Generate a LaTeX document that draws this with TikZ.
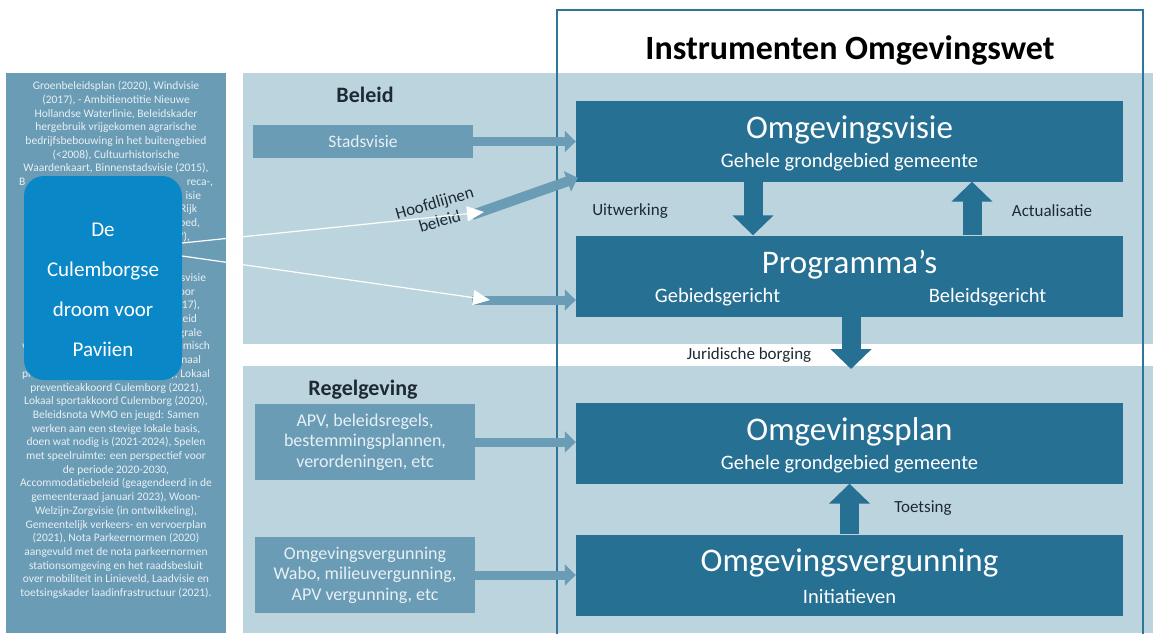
\documentclass[tikz,border=0pt]{standalone}
\usepackage{fontspec}
\setmainfont{Carlito}
\usepackage{tikz}
\usetikzlibrary{arrows.meta,positioning,calc}

\definecolor{boxdonker}{HTML}{267094}
\definecolor{middenblauw}{HTML}{6A9CB6}
\definecolor{bandblauw}{HTML}{BCD4DE}
\definecolor{droomblauw}{HTML}{0A87C6}
\definecolor{kaderlijn}{HTML}{2E7699}
\definecolor{lichttekst}{HTML}{E8F0F4}
\definecolor{donkertekst}{HTML}{1E2A33}

\begin{document}
\begin{tikzpicture}[x=1pt,y=-1pt,
  donker/.style={fill=boxdonker,minimum width=547pt,minimum height=81pt,inner sep=0pt},
  midden/.style={fill=middenblauw,minimum width=220pt,inner sep=0pt,text=lichttekst,align=center},
  groot/.style={text=white,font=\fontsize{33}{36}\selectfont},
  sub/.style={text=white,font=\fontsize{20.5}{24}\selectfont},
  klein/.style={text=donkertekst,font=\fontsize{17}{20}\selectfont},
  kop/.style={text=donkertekst,font=\bfseries\fontsize{22}{24}\selectfont},
  blok/.style={draw=boxdonker,line width=19pt,-{Triangle[width=40pt,length=20pt]}},
  pijl/.style={draw=middenblauw,line width=9pt,-{Triangle[width=21pt,length=11pt]}},
  wit/.style={draw=white,line width=1.2pt,-{Triangle[width=15pt,length=17pt]}}]
  \useasboundingbox (0,0) rectangle (1153,633); % 参照画像と同じ大きさ

  % 左側の文書リスト（列）。角丸箱に隠れた行は見える端だけ
  \fill[middenblauw] (6,73) rectangle (226,633);
  \node[anchor=north,inner sep=0pt,align=center,text=lichttekst,
        font=\fontsize{11.5}{13.7}\selectfont] (lijst) at (116,81) {%
    Groenbeleidsplan (2020), Windvisie\\
    (2017), - Ambitienotitie Nieuwe\\
    Hollandse Waterlinie, Beleidskader\\
    hergebruik vrijgekomen agrarische\\
    bedrijfsbebouwing in het buitengebied\\
    (<2008), Cultuurhistorische\\
    Waardenkaart, Binnenstadsvisie (2015),\\
    \makebox[194pt]{B\hfill reca-,}\\
    \makebox[170pt][r]{isie}\\
    \makebox[162pt][r]{Rijk}\\
    \makebox[168pt][r]{oed,}\\
    \makebox[148pt][r]{7),}\\
    \mbox{}\\
    \mbox{}\\
    \makebox[180pt][r]{svisie}\\
    \makebox[158pt][r]{oor}\\
    \makebox[168pt][r]{17),}\\
    \makebox[162pt][r]{leid}\\
    \makebox[172pt][r]{grale}\\
    \makebox[188pt]{v\hfill omisch}\\
    \makebox[170pt][r]{naal}\\
    \makebox[188pt]{pro\hfill ), Lokaal}\\
    preventieakkoord Culemborg (2021),\\
    Lokaal sportakkoord Culemborg (2020),\\
    Beleidsnota WMO en jeugd: Samen\\
    werken aan een stevige lokale basis,\\
    doen wat nodig is (2021-2024), Spelen\\
    met speelruimte: een perspectief voor\\
    de periode 2020-2030,\\
    Accommodatiebeleid (geagendeerd in de\\
    gemeenteraad januari 2023), Woon-\\
    Welzijn-Zorgvisie (in ontwikkeling),\\
    Gemeentelijk verkeers- en vervoerplan\\
    (2021), Nota Parkeernormen (2020)\\
    aangevuld met de nota parkeernormen\\
    stationsomgeving en het raadsbesluit\\
    over mobiliteit in Linieveld, Laadvisie en\\
    toetsingskader laadinfrastructuur (2021).};

  % 背景の帯（Beleid / Regelgeving）
  \fill[bandblauw] (243,73) rectangle (1153,344);
  \fill[bandblauw] (243,366) rectangle (1153,633);
  \draw[kaderlijn,line width=1.5pt] (557,10) rectangle (1143,640); % 外枠

  \node[text=black,font=\bfseries\fontsize{34}{36}\selectfont] (titel) at (850,50) {Instrumenten Omgevingswet};
  \node[kop] (beleid) at (365,95) {Beleid};
  \node[kop] (regel) at (363,390) {Regelgeving};

  % 右側の4つの箱
  \node[donker] (visie) at (849.5,141) {};
  \node[donker] (prog) at (849.5,276) {};
  \node[donker] (plan) at (849.5,443) {};
  \node[donker] (verg) at (849.5,575) {};
  \node[groot] at ($(visie.center)+(0,-11)$) {Omgevingsvisie};
  \node[sub] at ($(visie.center)+(0,21)$) {Gehele grondgebied gemeente};
  \node[groot] at ($(prog.center)+(0,-11)$) {Programma’s};
  \node[sub] (gebied) at ($(prog.center)+(-132,21)$) {Gebiedsgericht};
  \node[sub] (belgericht) at ($(prog.center)+(138,21)$) {Beleidsgericht};
  \node[groot] at ($(plan.center)+(0,-11)$) {Omgevingsplan};
  \node[sub] at ($(plan.center)+(0,21)$) {Gehele grondgebied gemeente};
  \node[groot] at ($(verg.center)+(0,-12)$) {Omgevingsvergunning};
  \node[sub] at ($(verg.center)+(0,21)$) {Initiatieven};

  % 箱どうしの太い矢印
  \draw[blok] ([xshift=-96.5pt]visie.south) -- ([xshift=-96.5pt]prog.north);
  \draw[blok] ([xshift=122.5pt]prog.north) -- ([xshift=122.5pt]visie.south);
  \coordinate (jur) at (851,369);
  \draw[blok] ([xshift=1.5pt]prog.south) -- ([xshift=1.5pt]prog.south |- jur);
  \draw[blok] (verg.north) -- (plan.south);
  \node[klein] (uitw) at (630,211) {Uitwerking};
  \node[klein] (actu) at (1052,211) {Actualisatie};
  \node[klein] (juri) at (749,355) {Juridische borging};
  \node[klein] (toets) at (923,508) {Toetsing};

  % 左側の入力箱と矢印
  \node[midden,minimum height=33pt,font=\fontsize{17.5}{20}\selectfont] (stad) at (363,141.5) {Stadsvisie};
  \node[midden,minimum height=76pt,font=\fontsize{18}{20.5}\selectfont] (apv) at (365,442) {APV, beleidsregels,\\bestemmingsplannen,\\verordeningen, etc};
  \node[midden,minimum height=76pt,font=\fontsize{18}{20.5}\selectfont] (ovl) at (365,575) {Omgevingsvergunning\\Wabo, milieuvergunning,\\APV vergunning, etc};
  \draw[pijl] (stad.east) -- (stad.east -| visie.west);
  \draw[pijl] (apv.east) -- (apv.east -| plan.west);
  \draw[pijl] (ovl.east) -- (ovl.east -| verg.west);
  \coordinate (hfd) at (472,215);
  \coordinate (geb) at (472,300);
  \draw[pijl,line width=10pt] (hfd) -- ([shift={(2pt,4pt)}]visie.south west);
  \draw[pijl] (geb) -- (geb -| prog.west);
  \node[klein,rotate=16,align=center,font=\fontsize{17}{19}\selectfont] (hoofd) at (437,212) {Hoofdlijnen\\beleid};

  % 「De Culemborgse droom voor Paviien」の角丸箱
  \node[fill=droomblauw,rounded corners=20pt,minimum width=158pt,minimum height=204pt] (droom) at (103,278) {};
  \node[text=white,align=center,font=\fontsize{21}{40}\selectfont] (droomtekst) at ([yshift=-12pt]droom.center) {De\\Culemborgse\\droom voor\\Paviien};
  \coordinate (hfdtip) at (484,212);
  \coordinate (gebtip) at (490,300);
  \draw[wit] ([yshift=35pt]droom.east) -- (hfdtip);
  \draw[wit] ([yshift=22pt]droom.east) -- (gebtip);
\end{tikzpicture}
\end{document}
